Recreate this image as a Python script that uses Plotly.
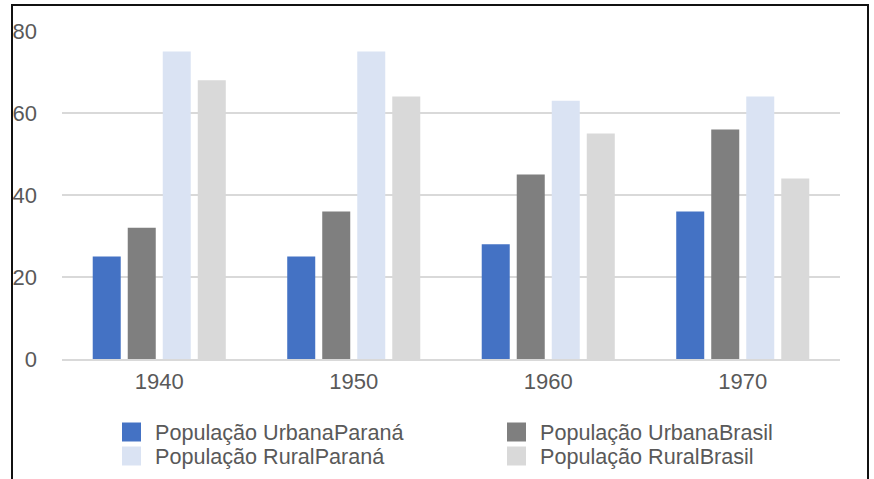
import plotly.graph_objects as go

years = ["1940", "1950", "1960", "1970"]
urbana_parana = [25, 25, 28, 36]
urbana_brasil = [32, 36, 45, 56]
rural_parana = [75, 75, 63, 64]
rural_brasil = [68, 64, 55, 44]

series_names = ["População UrbanaParaná", "População UrbanaBrasil",
                "População RuralParaná", "População RuralBrasil"]
series_values = [urbana_parana, urbana_brasil, rural_parana, rural_brasil]
series_colors = ["#4472C4", "#7F7F7F", "#DAE3F3", "#D9D9D9"]

W, H = 874, 479
L, R, T, B = 62, 34, 31, 120
pw, ph = W - L - R, H - T - B


def px_x(px):
    return (px - L) / pw


def px_y(py):
    return (T + ph - py) / ph


fig = go.Figure()
for name, vals, color in zip(series_names, series_values, series_colors):
    fig.add_trace(go.Bar(x=years, y=vals, name=name, showlegend=False,
                         marker=dict(color=color, line=dict(width=0))))

txt = "#595959"
fig.update_layout(
    width=W, height=H,
    margin=dict(l=L, r=R, t=T, b=B, autoexpand=False),
    paper_bgcolor="white", plot_bgcolor="white",
    barmode="group", bargap=0.28, bargroupgap=0.2,
    font=dict(family="Liberation Sans, Arial, sans-serif", size=22, color=txt),
    showlegend=False,
    xaxis=dict(showgrid=False, showline=True, linecolor="#D9D9D9", linewidth=2,
               ticks="", automargin=False, tickfont=dict(size=22, color=txt),
               ticklabelstandoff=2),
    yaxis=dict(range=[0, 80], tickvals=[0, 20, 40, 60, 80], showgrid=True,
               gridcolor="#D9D9D9", gridwidth=2, zeroline=False, showline=False,
               ticks="", automargin=False, tickfont=dict(size=22, color=txt),
               ticklabelstandoff=24),
)

# custom legend: 2 columns x 2 rows
col_x = [122, 507]
row_y = [432, 456]
sq = 19
for i, (name, color) in enumerate(zip(series_names, series_colors)):
    cx = col_x[i % 2]
    cy = row_y[i // 2]
    fig.add_shape(type="rect", xref="paper", yref="paper",
                  x0=px_x(cx), x1=px_x(cx + sq), y0=px_y(cy + sq / 2), y1=px_y(cy - sq / 2),
                  line=dict(width=0), fillcolor=color)
    fig.add_annotation(xref="paper", yref="paper", x=px_x(cx + 31), y=px_y(cy),
                       xanchor="left", yanchor="middle", showarrow=False,
                       text=name, font=dict(size=21.6, color=txt))

# outer frame border
fig.add_shape(type="rect", xref="paper", yref="paper",
              x0=px_x(12), x1=px_x(868), y0=px_y(520), y1=px_y(5),
              line=dict(color="#111111", width=2), fillcolor="rgba(0,0,0,0)", layer="above")

fig.write_html("out.html", config={"displayModeBar": False},
               post_script="document.body.style.margin='0';")
